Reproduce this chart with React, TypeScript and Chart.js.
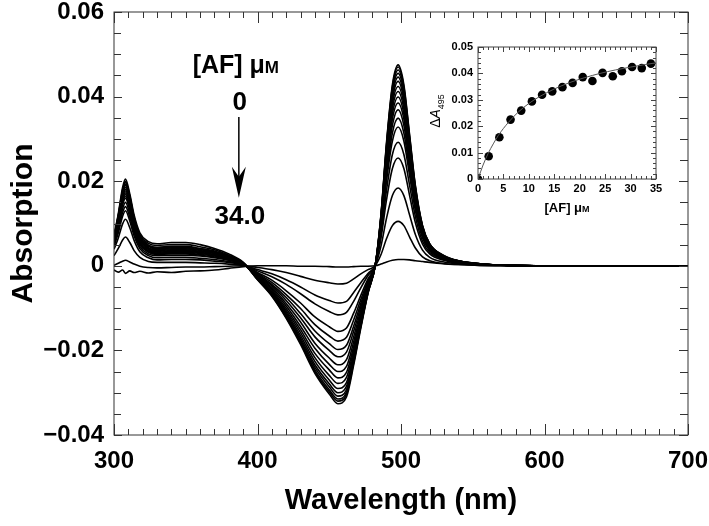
import React, { useEffect, useRef } from "react";
import { Chart, registerables } from "chart.js";
Chart.register(...registerables);

const wavelengths = [300,303,306,308,311,314,318,324,330,340,350,360,370,380,390,400,410,420,430,440,450,456,462,467,472,477,482,486,490,494,498,502,506,510,515,520,530,540,555,575,600,650,700];

const s01 = [-0.001,-0.0015,-0.001,-0.0018,-0.0012,-0.0016,-0.0013,-0.0017,-0.0014,-0.0016,-0.0013,-0.0012,-0.001,-0.0006,-0.0002,0,0,0,-0.0001,-0.0001,-0.0002,-0.0003,-0.0003,-0.0002,-0.0001,-0.0001,0,0.0004,0.0009,0.0013,0.0015,0.0015,0.0014,0.0012,0.001,0.0008,0.0005,0.0003,0.0001,0,0,0,0];
const s02 = [0.0001,0.0006,0.0011,0.0013,0.0009,0.0004,-0.0001,-0.0004,-0.0005,-0.0004,-0.0003,-0.0003,-0.0002,-0.0001,0,-0.0004,-0.0009,-0.0016,-0.0025,-0.0034,-0.004,-0.0043,-0.0041,-0.0031,-0.0019,-0.0009,0,0.0026,0.0065,0.0095,0.0105,0.0095,0.0068,0.0042,0.0021,0.0012,0.0005,0.0003,0.0001,0,0,0,0];
const s03 = [0.0024,0.0041,0.0061,0.0068,0.0055,0.0036,0.002,0.001,0.0008,0.0008,0.0008,0.0007,0.0006,0.0004,0.0001,-0.0009,-0.0019,-0.0033,-0.005,-0.0069,-0.0082,-0.0088,-0.0084,-0.0063,-0.004,-0.0018,0,0.0046,0.0114,0.0166,0.0184,0.0166,0.012,0.0074,0.0037,0.002,0.0009,0.0005,0.0002,0.0001,0,0,0];
const s04 = [0.0039,0.0066,0.0099,0.011,0.009,0.006,0.0033,0.0019,0.0014,0.0015,0.0015,0.0014,0.0011,0.0008,0.0002,-0.0012,-0.0026,-0.0044,-0.0066,-0.009,-0.0108,-0.0116,-0.011,-0.0084,-0.0052,-0.0023,0,0.0064,0.0158,0.023,0.0255,0.023,0.0166,0.0102,0.0051,0.0028,0.0013,0.0006,0.0003,0.0001,0,0,0];
const s05 = [0.0046,0.0078,0.0117,0.013,0.0106,0.0071,0.0041,0.0024,0.0019,0.002,0.002,0.0018,0.0015,0.001,0.0003,-0.0016,-0.0034,-0.0059,-0.0088,-0.0121,-0.0144,-0.0155,-0.0147,-0.0112,-0.007,-0.0031,0,0.0073,0.0181,0.0263,0.0292,0.0263,0.019,0.0117,0.0058,0.0032,0.0015,0.0007,0.0003,0.0001,0,0,0];
const s06 = [0.0049,0.0084,0.0126,0.014,0.0115,0.0078,0.0046,0.0028,0.0024,0.0025,0.0025,0.0023,0.0019,0.0013,0.0004,-0.0018,-0.0039,-0.0068,-0.0101,-0.0139,-0.0166,-0.0178,-0.0169,-0.0128,-0.008,-0.0036,0,0.0082,0.0203,0.0295,0.0328,0.0295,0.0213,0.0131,0.0066,0.0036,0.0016,0.0008,0.0003,0.0001,0,0,0];
const s07 = [0.0053,0.009,0.0135,0.015,0.0123,0.0083,0.005,0.0032,0.0027,0.0028,0.0028,0.0025,0.0021,0.0014,0.0004,-0.002,-0.0044,-0.0075,-0.0113,-0.0154,-0.0184,-0.0198,-0.0188,-0.0143,-0.0089,-0.004,0,0.0087,0.0216,0.0314,0.0349,0.0314,0.0227,0.014,0.007,0.0038,0.0017,0.0009,0.0003,0.0001,0,0,0];
const s08 = [0.0056,0.0096,0.0144,0.016,0.0131,0.0089,0.0053,0.0034,0.0029,0.003,0.003,0.0027,0.0023,0.0015,0.0005,-0.0022,-0.0047,-0.0082,-0.0123,-0.0168,-0.02,-0.0215,-0.0204,-0.0155,-0.0097,-0.0043,0,0.0092,0.0229,0.0332,0.0369,0.0332,0.024,0.0148,0.0074,0.0041,0.0018,0.0009,0.0004,0.0001,0,0,0];
const s09 = [0.0058,0.0099,0.0149,0.0165,0.0135,0.0093,0.0055,0.0035,0.003,0.0032,0.0032,0.0029,0.0024,0.0016,0.0005,-0.0023,-0.0051,-0.0089,-0.0133,-0.0183,-0.0218,-0.0234,-0.0222,-0.0168,-0.0105,-0.0047,0,0.0096,0.0239,0.0347,0.0385,0.0347,0.025,0.0154,0.0077,0.0042,0.0019,0.001,0.0004,0.0001,0,0,0];
const s10 = [0.006,0.0102,0.0153,0.017,0.0139,0.0095,0.0057,0.0038,0.0032,0.0034,0.0034,0.0031,0.0026,0.0017,0.0005,-0.0025,-0.0055,-0.0095,-0.0143,-0.0195,-0.0233,-0.025,-0.0238,-0.018,-0.0113,-0.005,0,0.01,0.0247,0.0359,0.0399,0.0359,0.0259,0.016,0.008,0.0044,0.002,0.001,0.0004,0.0001,0,0,0];
const s11 = [0.0061,0.0105,0.0158,0.0175,0.0144,0.0099,0.0061,0.004,0.0034,0.0036,0.0036,0.0032,0.0027,0.0018,0.0005,-0.0027,-0.0058,-0.0101,-0.0151,-0.0207,-0.0246,-0.0265,-0.0252,-0.0191,-0.0119,-0.0053,0,0.0103,0.0255,0.0371,0.0412,0.0371,0.0268,0.0165,0.0082,0.0045,0.0021,0.001,0.0004,0.0001,0,0,0];
const s12 = [0.0063,0.0108,0.0162,0.018,0.0148,0.0101,0.0063,0.0041,0.0036,0.0038,0.0038,0.0034,0.0029,0.0019,0.0006,-0.0028,-0.0061,-0.0106,-0.0158,-0.0217,-0.0259,-0.0278,-0.0264,-0.02,-0.0125,-0.0056,0,0.0106,0.0263,0.0382,0.0424,0.0382,0.0276,0.017,0.0085,0.0047,0.0021,0.0011,0.0004,0.0001,0,0,0];
const s13 = [0.0065,0.0111,0.0167,0.0185,0.0152,0.0105,0.0065,0.0043,0.0038,0.004,0.004,0.0036,0.003,0.002,0.0006,-0.0029,-0.0064,-0.011,-0.0165,-0.0226,-0.027,-0.029,-0.0276,-0.0209,-0.0131,-0.0058,0,0.0109,0.027,0.0392,0.0436,0.0392,0.0283,0.0174,0.0087,0.0048,0.0022,0.0011,0.0004,0.0001,0,0,0];
const s14 = [0.0067,0.0114,0.0171,0.019,0.0156,0.0108,0.0067,0.0046,0.004,0.0042,0.0042,0.0038,0.0032,0.0021,0.0006,-0.003,-0.0066,-0.0114,-0.0171,-0.0234,-0.0279,-0.03,-0.0285,-0.0216,-0.0135,-0.006,0,0.0112,0.0277,0.0401,0.0446,0.0401,0.029,0.0178,0.0089,0.0049,0.0022,0.0011,0.0004,0.0001,0,0,0];
const s15 = [0.0068,0.0116,0.0174,0.0193,0.0158,0.011,0.0068,0.0047,0.0042,0.0044,0.0044,0.004,0.0033,0.0022,0.0007,-0.0031,-0.0068,-0.0117,-0.0176,-0.024,-0.0286,-0.0308,-0.0293,-0.0222,-0.0139,-0.0062,0,0.0114,0.0282,0.041,0.0455,0.041,0.0296,0.0182,0.0091,0.005,0.0023,0.0011,0.0005,0.0001,0,0,0];
const s16 = [0.0069,0.0118,0.0177,0.0197,0.0163,0.0113,0.0071,0.0049,0.0044,0.0046,0.0046,0.0041,0.0035,0.0023,0.0007,-0.0032,-0.0069,-0.012,-0.018,-0.0246,-0.0293,-0.0315,-0.0299,-0.0227,-0.0142,-0.0063,0,0.0116,0.0287,0.0417,0.0463,0.0417,0.0301,0.0185,0.0093,0.0051,0.0023,0.0012,0.0005,0.0001,0,0,0];
const s17 = [0.007,0.012,0.018,0.02,0.0165,0.0115,0.0074,0.0053,0.0048,0.005,0.005,0.0045,0.0038,0.0025,0.0008,-0.0032,-0.007,-0.0122,-0.0182,-0.025,-0.0298,-0.032,-0.0304,-0.023,-0.0144,-0.0064,0,0.0118,0.0291,0.0423,0.047,0.0423,0.0306,0.0188,0.0094,0.0052,0.0024,0.0012,0.0005,0.0001,0,0,0];
const s18 = [0.0072,0.0123,0.0185,0.0205,0.017,0.012,0.0078,0.0057,0.0052,0.0055,0.0055,0.005,0.0041,0.0028,0.0008,-0.0033,-0.0072,-0.0124,-0.0186,-0.0254,-0.0303,-0.0326,-0.031,-0.0235,-0.0147,-0.0065,0,0.0119,0.0295,0.0428,0.0475,0.0428,0.0309,0.019,0.0095,0.0052,0.0024,0.0012,0.0005,0.0001,0,0,0];
const spectra = [s01,s02,s03,s04,s05,s06,s07,s08,s09,s10,s11,s12,s13,s14,s15,s16,s17,s18];

const xTicksMain = [300, 400, 500, 600, 700];
const yTicksMain = [-0.04, -0.02, 0, 0.02, 0.04, 0.06];

// inset data
const concAF = [0, 2.1, 4.2, 6.4, 8.5, 10.6, 12.6, 14.6, 16.6, 18.6, 20.6, 22.5, 24.5, 26.5, 28.3, 30.3, 32.2, 34.0];
const deltaA495 = [0, 0.0086, 0.0158, 0.0225, 0.0259, 0.0294, 0.0319, 0.0332, 0.0348, 0.0364, 0.0386, 0.0371, 0.0402, 0.0389, 0.0408, 0.0424, 0.042, 0.0437];
const fitConc = [0, 1, 2, 3, 4, 6, 8, 10, 12, 15, 18, 21, 24, 27, 30, 33, 35];
const fitA495 = [0, 0.0053, 0.0097, 0.0133, 0.0165, 0.0215, 0.0255, 0.0286, 0.0311, 0.0341, 0.0365, 0.0384, 0.04, 0.0413, 0.0424, 0.0434, 0.044];
const xTicksInset = [0, 5, 10, 15, 20, 25, 30, 35];
const yTicksInset = [0, 0.01, 0.02, 0.03, 0.04, 0.05];

const FONT = "'Liberation Sans', Arial, Helvetica, sans-serif";

function fmtMain(v: number) {
  if (Math.abs(v) < 1e-9) return "0";
  return (v < 0 ? "\u2212" : "") + Math.abs(v).toFixed(2);
}
function fmtInsetY(v: number) {
  if (Math.abs(v) < 1e-9) return "0";
  return v.toFixed(2);
}

function frameTicksPlugin(id: string, cfg: any) {
  return {
    id,
    afterDatasetsDraw(chart: any) {
      const { ctx, chartArea } = chart;
      const { left, right, top, bottom } = chartArea;
      const xs = chart.scales.x;
      const ys = chart.scales.y;
      ctx.save();
      ctx.strokeStyle = cfg.color;
      ctx.lineWidth = cfg.lw;
      ctx.strokeRect(left, top, right - left, bottom - top);
      ctx.beginPath();
      const nx = Math.round((cfg.xmax - cfg.xmin) / cfg.xminor);
      for (let i = 0; i <= nx; i++) {
        const v = cfg.xmin + i * cfg.xminor;
        const px = Math.round(xs.getPixelForValue(v)) + 0.5;
        const r = v / cfg.xmajor;
        const major = Math.abs(r - Math.round(r)) < 1e-6;
        const lb = major ? cfg.xMajLen : cfg.xMinLen;
        const lt = major ? cfg.xTopMajLen : cfg.xTopMinLen;
        ctx.moveTo(px, bottom); ctx.lineTo(px, bottom - lb);
        ctx.moveTo(px, top); ctx.lineTo(px, top + lt);
      }
      const ny = Math.round((cfg.ymax - cfg.ymin) / cfg.yminor);
      for (let i = 0; i <= ny; i++) {
        const v = cfg.ymin + i * cfg.yminor;
        const py = Math.round(ys.getPixelForValue(v)) + 0.5;
        const r = v / cfg.ymajor;
        const major = Math.abs(r - Math.round(r)) < 1e-6;
        const ll = major ? cfg.yMajLen : cfg.yMinLen;
        const lr = major ? cfg.yRMajLen : cfg.yRMinLen;
        ctx.moveTo(left, py); ctx.lineTo(left + ll, py);
        ctx.moveTo(right, py); ctx.lineTo(right - lr, py);
      }
      ctx.stroke();
      ctx.restore();
    },
  };
}

const mainAnnot = {
  id: "mainAnnot",
  afterDraw(chart: any) {
    const { ctx } = chart;
    const xs = chart.scales.x;
    const ys = chart.scales.y;
    const cx = xs.getPixelForValue(387);
    ctx.save();
    ctx.fillStyle = "#000";
    ctx.textBaseline = "alphabetic";
    const big = `bold 25px ${FONT}`;
    const small = `bold 17px ${FONT}`;
    ctx.font = big;
    const t1 = "[AF] \u03bc";
    const w1 = ctx.measureText(t1).width;
    ctx.font = small;
    const w2 = ctx.measureText("M").width;
    const startX = cx - 3 - (w1 + w2) / 2;
    const baseY = ys.getPixelForValue(0.0455);
    ctx.font = big;
    ctx.textAlign = "left";
    ctx.fillText(t1, startX, baseY);
    ctx.font = small;
    ctx.fillText("M", startX + w1, baseY);
    ctx.font = `bold 26px ${FONT}`;
    ctx.textAlign = "center";
    ctx.fillText("0", cx + 1, ys.getPixelForValue(0.0368));
    const yTop = ys.getPixelForValue(0.0352);
    const yTip = ys.getPixelForValue(0.0161);
    ctx.strokeStyle = "#000";
    ctx.lineWidth = 1.5;
    ctx.beginPath();
    ctx.moveTo(cx, yTop);
    ctx.lineTo(cx, yTip - 12);
    ctx.stroke();
    ctx.beginPath();
    ctx.moveTo(cx, yTip);
    ctx.lineTo(cx - 7, yTip - 31);
    ctx.lineTo(cx, yTip - 21);
    ctx.lineTo(cx + 7, yTip - 31);
    ctx.closePath();
    ctx.fill();
    ctx.fillText("34.0", cx + 1, ys.getPixelForValue(0.0098));
    ctx.restore();
  },
};

const insetAnnot = {
  id: "insetAnnot",
  afterDraw(chart: any) {
    const { ctx, chartArea } = chart;
    ctx.save();
    ctx.fillStyle = "#000";
    const big = `bold 13px ${FONT}`;
    const small = `bold 9px ${FONT}`;
    ctx.font = big;
    const t1 = "[AF] \u03bc";
    const w1 = ctx.measureText(t1).width;
    ctx.font = small;
    const w2 = ctx.measureText("M").width;
    const cx = (chartArea.left + chartArea.right) / 2;
    const by = chartArea.bottom + 33;
    const sx = cx - (w1 + w2) / 2;
    ctx.textAlign = "left";
    ctx.textBaseline = "alphabetic";
    ctx.font = big;
    ctx.fillText(t1, sx, by);
    ctx.font = small;
    ctx.fillText("M", sx + w1, by);
    ctx.translate(chartArea.left - 42, (chartArea.top + chartArea.bottom) / 2 - 2);
    ctx.rotate(-Math.PI / 2);
    const f1 = `14px ${FONT}`;
    const f2 = `italic 14px ${FONT}`;
    const f3 = `9px ${FONT}`;
    ctx.font = f1; const a = ctx.measureText("\u0394").width;
    ctx.font = f2; const b = ctx.measureText("A").width;
    ctx.font = f3; const c = ctx.measureText("495").width;
    let x0 = -(a + b + c) / 2;
    ctx.textBaseline = "middle";
    ctx.font = f1; ctx.fillText("\u0394", x0, 0); x0 += a;
    ctx.font = f2; ctx.fillText("A", x0, 0); x0 += b;
    ctx.font = f3; ctx.fillText("495", x0, 6);
    ctx.restore();
  },
};

export default function App() {
  const mainRef = useRef<HTMLCanvasElement | null>(null);
  const insetRef = useRef<HTMLCanvasElement | null>(null);

  useEffect(() => {
    const datasets = spectra.map((s, i) => ({
      label: `c${i}`,
      data: wavelengths.map((w, j) => ({ x: w, y: s[j] })),
      borderColor: "#000",
      borderWidth: 1.6,
      pointRadius: 0,
      fill: false,
      cubicInterpolationMode: "monotone" as const,
    }));
    const main = new Chart(mainRef.current as HTMLCanvasElement, {
      type: "line",
      data: { datasets },
      options: {
        animation: false,
        responsive: false,
        events: [],
        layout: { padding: { top: 12, right: 21, left: 0, bottom: 0 } },
        plugins: { legend: { display: false }, tooltip: { enabled: false } },
        scales: {
          x: {
            type: "linear",
            min: 300,
            max: 700,
            afterBuildTicks: (s: any) => { s.ticks = xTicksMain.map((v) => ({ value: v })); },
            afterFit: (s: any) => { s.height = 91; s.paddingLeft = 0; s.paddingRight = 0; },
            grid: { display: false, drawTicks: false },
            border: { display: false },
            ticks: { color: "#000", font: { family: FONT, size: 24, weight: "bold" }, padding: 12, maxRotation: 0, autoSkip: false },
            title: { display: true, text: "Wavelength (nm)", color: "#000", font: { family: FONT, size: 29, weight: "bold" }, padding: { top: 0, bottom: 8 } },
          },
          y: {
            type: "linear",
            min: -0.04,
            max: 0.06,
            afterBuildTicks: (s: any) => { s.ticks = yTicksMain.map((v) => ({ value: v })); },
            afterFit: (s: any) => { s.width = 114; s.paddingTop = 0; s.paddingBottom = 0; },
            grid: { display: false, drawTicks: false },
            border: { display: false },
            ticks: { color: "#000", font: { family: FONT, size: 24, weight: "bold" }, padding: 10, callback: (v: any) => fmtMain(Number(v)) },
            title: { display: true, text: "Absorption", color: "#000", font: { family: FONT, size: 30, weight: "bold" }, padding: { top: 6, bottom: 0 } },
          },
        },
      },
      plugins: [
        frameTicksPlugin("mainFrame", {
          color: "#333", lw: 1,
          xmin: 300, xmax: 700, xminor: 10, xmajor: 100,
          xMajLen: 11, xMinLen: 6, xTopMajLen: 11, xTopMinLen: 6,
          ymin: -0.04, ymax: 0.06, yminor: 0.005, ymajor: 0.02,
          yMajLen: 8, yMinLen: 7, yRMajLen: 9, yRMinLen: 8,
        }),
        mainAnnot,
      ],
    } as any);

    const inset = new Chart(insetRef.current as HTMLCanvasElement, {
      type: "line",
      data: {
        datasets: [
          {
            label: "fit",
            data: fitConc.map((c, i) => ({ x: c, y: fitA495[i] })),
            borderColor: "#555",
            borderWidth: 1,
            pointRadius: 0,
            cubicInterpolationMode: "monotone",
            fill: false,
          },
          {
            label: "data",
            data: concAF.map((c, i) => ({ x: c, y: deltaA495[i] })),
            showLine: false,
            pointRadius: 4.3,
            pointBackgroundColor: "#000",
            pointBorderColor: "#000",
            pointBorderWidth: 0,
          },
        ],
      },
      options: {
        animation: false,
        responsive: false,
        events: [],
        layout: { padding: { top: 17, right: 14, left: 0, bottom: 0 } },
        plugins: { legend: { display: false }, tooltip: { enabled: false } },
        scales: {
          x: {
            type: "linear",
            min: 0,
            max: 35,
            afterBuildTicks: (s: any) => { s.ticks = xTicksInset.map((v) => ({ value: v })); },
            afterFit: (s: any) => { s.height = 41; s.paddingLeft = 0; s.paddingRight = 0; },
            grid: { display: false, drawTicks: false },
            border: { display: false },
            ticks: { color: "#000", font: { family: FONT, size: 11, weight: "bold" }, padding: 3, maxRotation: 0, autoSkip: false },
          },
          y: {
            type: "linear",
            min: 0,
            max: 0.05,
            afterBuildTicks: (s: any) => { s.ticks = yTicksInset.map((v) => ({ value: v })); },
            afterFit: (s: any) => { s.width = 58; s.paddingTop = 0; s.paddingBottom = 0; },
            grid: { display: false, drawTicks: false },
            border: { display: false },
            ticks: { color: "#000", font: { family: FONT, size: 11, weight: "bold" }, padding: 5, callback: (v: any) => fmtInsetY(Number(v)) },
          },
        },
      },
      plugins: [
        frameTicksPlugin("insetFrame", {
          color: "#444", lw: 1,
          xmin: 0, xmax: 35, xminor: 1, xmajor: 5,
          xMajLen: 5, xMinLen: 3, xTopMajLen: 5, xTopMinLen: 3,
          ymin: 0, ymax: 0.05, yminor: 0.002, ymajor: 0.01,
          yMajLen: 5, yMinLen: 3, yRMajLen: 5, yRMinLen: 3,
        }),
        insetAnnot,
      ],
    } as any);

    return () => {
      main.destroy();
      inset.destroy();
    };
  }, []);

  return (
    <div style={{ position: "fixed", left: 0, top: 0, width: 709, height: 526, background: "#fff" }}>
      <canvas ref={mainRef} width={709} height={526} style={{ position: "absolute", left: 0, top: 0 }} />
      <canvas ref={insetRef} width={250} height={190} style={{ position: "absolute", left: 420, top: 30 }} />
    </div>
  );
}
